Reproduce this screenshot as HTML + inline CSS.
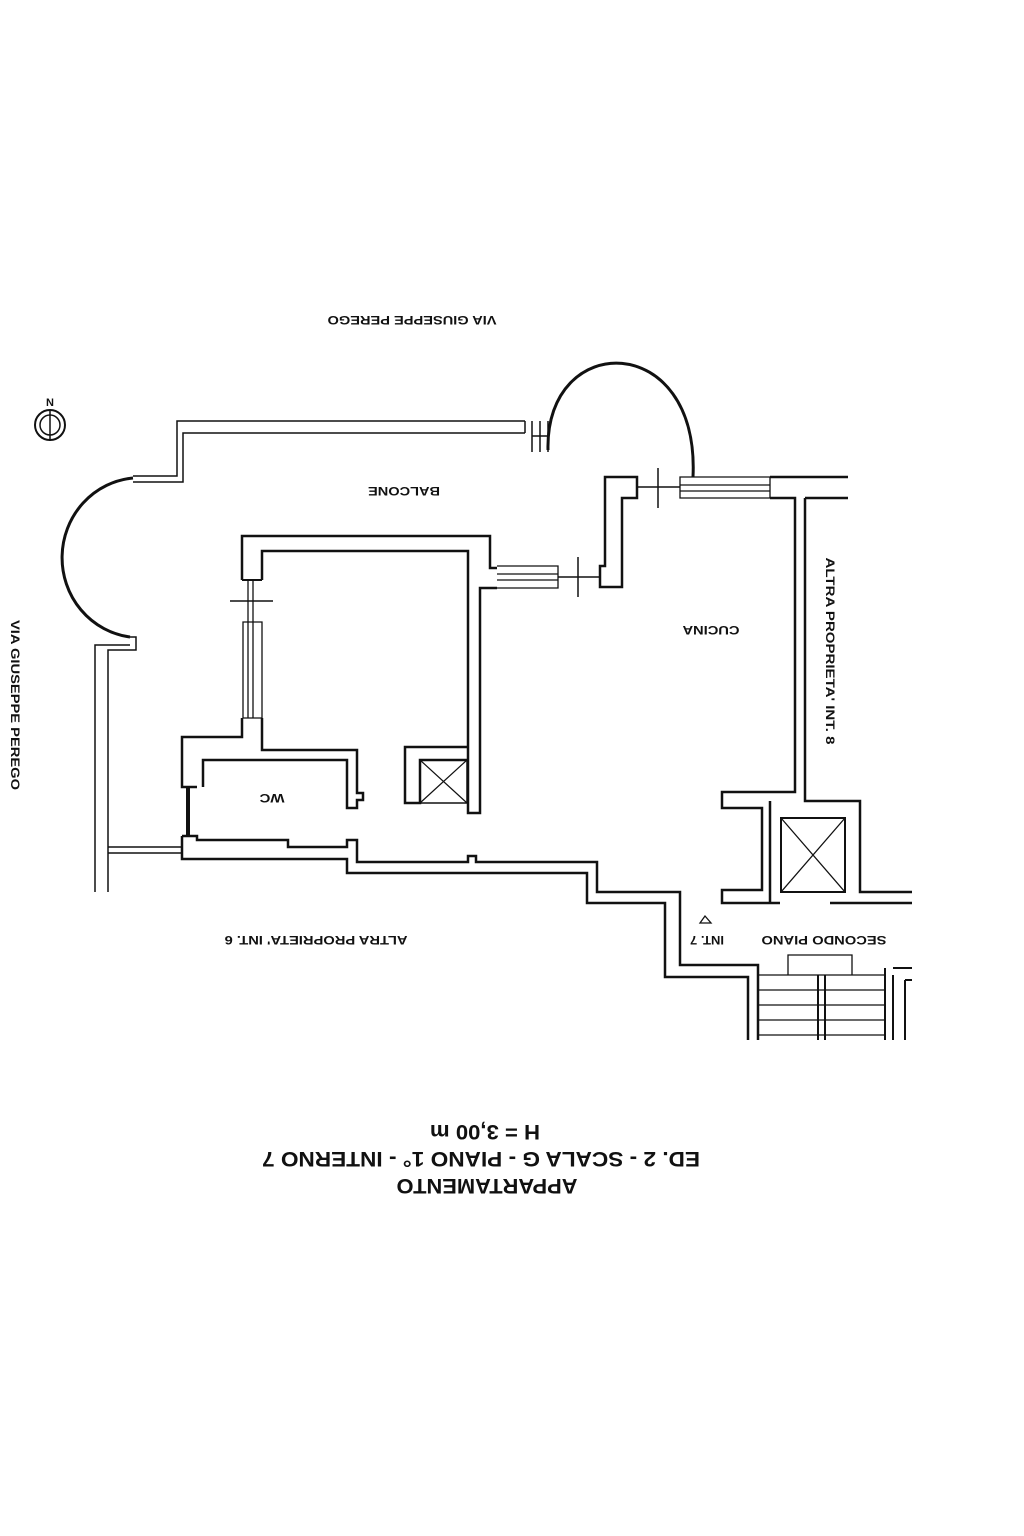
<!DOCTYPE html>
<html><head><meta charset="utf-8"><style>
html,body{margin:0;padding:0;background:#fff;}
svg{display:block;}
text{font-family:"Liberation Sans",sans-serif;fill:#111;font-weight:bold;}
</style></head><body>
<svg width="1024" height="1536" viewBox="0 0 1024 1536" xmlns="http://www.w3.org/2000/svg">
<g fill="none" stroke="#111" stroke-width="2">
<!-- balcony -->
<path d="M525,421 L177,421 L177,476 L133,476" stroke-width="1.5"/>
<path d="M525,433 L183,433 L183,482 L133,482" stroke-width="1.5"/>
<path d="M525,421 L525,433 M532,421 L532,452 M540,421 L540,452 M548,421 L548,452 M532,436 L548,436" stroke-width="1.5"/>
<path d="M133,478 A78,80 0 0 0 130,637" stroke-width="3"/>
<path d="M130,637 L136,637 L136,650 L108,650 L108,892 M95,892 L95,645 L130,645" stroke-width="1.5"/>
<path d="M108,847 L182,847 M108,853 L182,853" stroke-width="1.5"/>
<!-- left room -->
<path d="M242,580 L242,536 L490,536 L490,568 L497,568" stroke-width="2.5"/>
<path d="M262,580 L262,551 L468,551 L468,813 L480,813 L480,588 L497,588" stroke-width="2.5"/>
<path d="M242,580 L262,580" stroke-width="2"/>
<path d="M243,622 L262,622 L262,718 L243,718 Z M248,580 L248,718 M253,580 L253,718" stroke-width="1.3"/>
<path d="M230,601 L273,601" stroke-width="1.5"/>
<path d="M242,718 L242,737 L182,737 L182,787 L197,787 M203,787 L203,760 L347,760 L347,808 L357,808 L357,800 L363,800 L363,793 L357,793 L357,750 L262,750 L262,718" stroke-width="2.5"/>
<path d="M188,787 L188,836" stroke-width="4"/>
<path d="M182,836 L182,859 L347,859 L347,873 L587,873 L587,903 L665,903 L665,977 L748,977 L748,1040" stroke-width="2.5"/>
<path d="M182,836 L197,836 L197,840 L288,840 L288,847 L347,847 L347,840 L357,840 L357,862 L468,862 L468,856 L476,856 L476,862 L597,862 L597,892 L680,892 L680,965 L758,965 L758,1040" stroke-width="2.5"/>
<!-- shaft left -->
<path d="M468,747 L405,747 L405,803 L420,803 L420,760 L468,760" stroke-width="2.5"/>
<rect x="420" y="760" width="47" height="43" stroke-width="1.5"/>
<path d="M420,760 L467,803 M467,760 L420,803" stroke-width="1.2"/>
<!-- windows top-middle -->
<path d="M497,566 L558,566 L558,588 L497,588 M497,574 L558,574 M497,580 L558,580" stroke-width="1.3"/>
<path d="M558,577 L600,577 M578,557 L578,597" stroke-width="1.5"/>
<!-- kitchen pillar -->
<path d="M600,587 L600,566 L605,566 L605,477 L637,477 L637,498 L622,498 L622,587 Z" stroke-width="2.5"/>
<path d="M637,487 L680,487 M658,468 L658,508" stroke-width="1.5"/>
<path d="M680,477 L770,477 L770,498 L680,498 Z M680,485 L770,485 M680,491 L770,491" stroke-width="1.3"/>
<path d="M548,450 C545,330 700,330 693,477" stroke-width="3"/>
<path d="M770,477 L848,477 M770,498 L795,498 L795,792 L722,792 L722,808 L762,808 L762,890 L722,890 L722,903 L780,903 M805,498 L848,498 M805,498 L805,801 L860,801 L860,892 L912,892 M830,903 L912,903 M770,801 L770,903" stroke-width="2.5"/>
<rect x="781" y="818" width="64" height="74" stroke-width="2"/>
<path d="M781,818 L845,892 M845,818 L781,892" stroke-width="1.3"/>
<!-- stairs -->
<path d="M788,975 L788,955 L852,955 L852,975" stroke-width="1.3"/>
<path d="M758,975 L885,975 M758,990 L885,990 M758,1005 L885,1005 M758,1020 L885,1020 M758,1035 L885,1035" stroke-width="1.3"/>
<path d="M818,975 L818,1040 M825,975 L825,1040" stroke-width="2"/>
<path d="M885,968 L885,1040 M893,975 L893,1040 M893,968 L912,968 M905,980 L912,980 M905,980 L905,1040" stroke-width="2"/>
<!-- compass -->
<circle cx="50" cy="425" r="15" stroke-width="2"/>
<circle cx="50" cy="425" r="10" stroke-width="1.5"/>
<path d="M50,410 L50,441" stroke-width="1.5"/>
<path d="M700,923 L705,916 L711,923 Z" stroke-width="1.3"/>
</g>
<text x="50" y="406" font-size="11" text-anchor="middle">N</text>
<g font-size="12" text-anchor="middle" lengthAdjust="spacingAndGlyphs">
<text transform="translate(412,320) rotate(180)" dy="4" textLength="169" lengthAdjust="spacingAndGlyphs">VIA GIUSEPPE PEREGO</text>
<text transform="translate(404,491) rotate(180)" dy="4" textLength="72" lengthAdjust="spacingAndGlyphs">BALCONE</text>
<text transform="translate(711,630) rotate(180)" dy="4" textLength="57" lengthAdjust="spacingAndGlyphs">CUCINA</text>
<text transform="translate(272,798) rotate(180)" dy="4" textLength="25" lengthAdjust="spacingAndGlyphs">WC</text>
<text transform="translate(830,651) rotate(90)" dy="4" textLength="187" lengthAdjust="spacingAndGlyphs">ALTRA PROPRIETA' INT. 8</text>
<text transform="translate(15,705) rotate(90)" dy="4" textLength="170" lengthAdjust="spacingAndGlyphs">VIA GIUSEPPE PEREGO</text>
<text transform="translate(316,940) rotate(180)" dy="4" textLength="183" lengthAdjust="spacingAndGlyphs">ALTRA PROPRIETA' INT. 6</text>
<text transform="translate(707,940) rotate(180)" dy="4" textLength="34" lengthAdjust="spacingAndGlyphs">INT. 7</text>
<text transform="translate(824,940) rotate(180)" dy="4" textLength="125" lengthAdjust="spacingAndGlyphs">SECONDO PIANO</text>
</g>
<g font-size="21" text-anchor="middle">
<text transform="translate(485,1132) rotate(180)" dy="7" textLength="110" lengthAdjust="spacingAndGlyphs">H = 3,00 m</text>
<text transform="translate(481,1159) rotate(180)" dy="7" textLength="438" lengthAdjust="spacingAndGlyphs">ED. 2 - SCALA G - PIANO 1° - INTERNO 7</text>
<text transform="translate(487,1186) rotate(180)" dy="7" textLength="181" lengthAdjust="spacingAndGlyphs">APPARTAMENTO</text>
</g>
</svg>
</body></html>
